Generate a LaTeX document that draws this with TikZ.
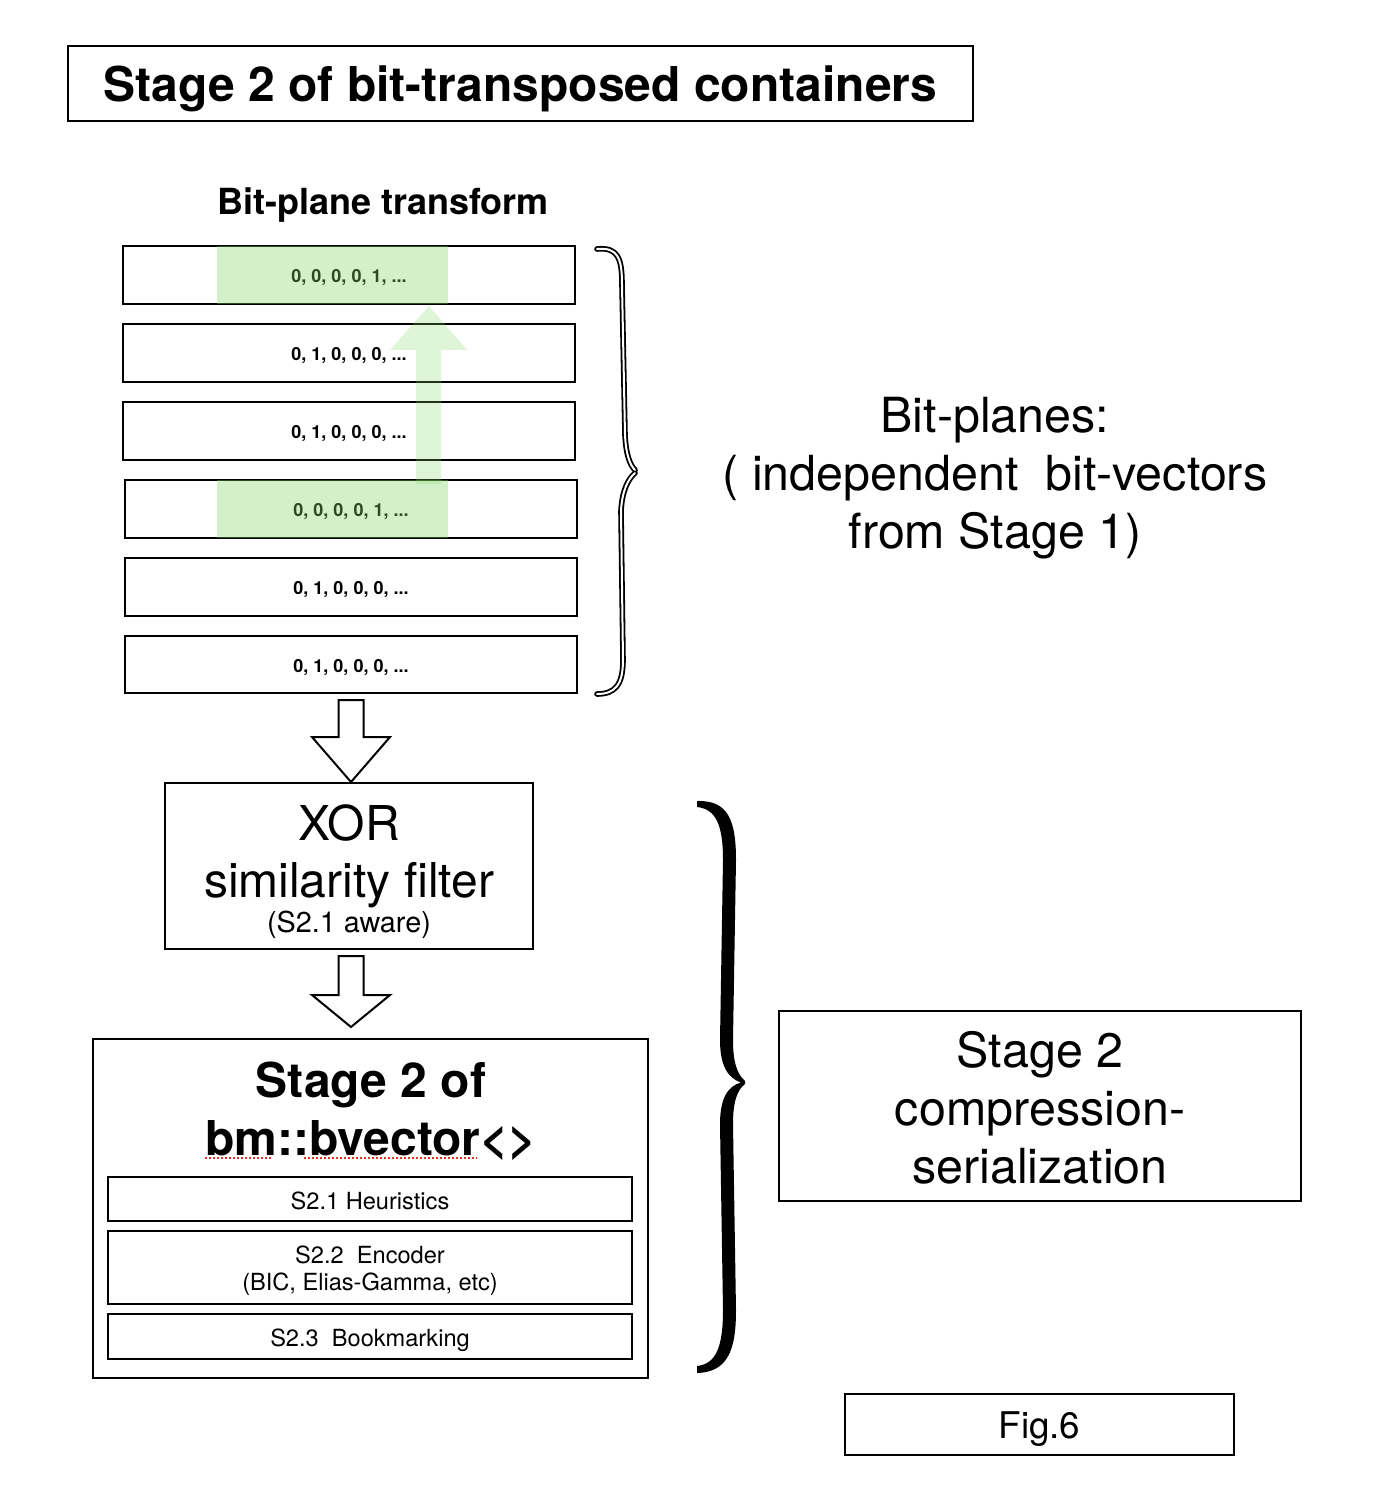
\documentclass[tikz,border=0pt]{standalone}
\usepackage{fontspec}
\setmainfont{TeX Gyre Heros}
\usetikzlibrary{calc}
\definecolor{hl}{RGB}{129,214,100}
\definecolor{squig}{RGB}{225,50,40}
\newcommand\lowr[2]{\raisebox{-#1}[\height][\depth]{#2}}
\begin{document}
\begin{tikzpicture}[x=0.5pt,y=-0.5pt,
  box/.style={draw=black,line width=1pt,inner sep=0pt,align=center},
  rowbox/.style={box,minimum width=226pt,minimum height=29pt,font=\fontsize{9}{11}\selectfont\bfseries},
  subbox/.style={box,minimum width=262pt,font=\fontsize{11.8}{14}\selectfont},
  bigtext/.style={align=center,font=\fontsize{24.2}{29}\selectfont},
  hollow/.style={draw=black,fill=white,line width=1pt,line join=miter},
  hlfill/.style={fill=hl,fill opacity=0.35},
  hlarrow/.style={fill=hl,fill opacity=0.25},
  hbraceout/.style={draw=black,line width=2.8pt,line cap=round,line join=round},
  hbracein/.style={draw=white,line width=1pt,line cap=round,line join=round},
  squigline/.style={draw=squig,line width=1pt,dash pattern=on 1pt off 1pt}
]
\useasboundingbox (0,0) rectangle (1382,1500);

% title
\node[box,minimum width=452.5pt,minimum height=37.5pt,font=\fontsize{24}{29}\selectfont\bfseries] (title) at (520.5,83.5) {\lowr{2.5pt}{Stage 2 of bit-transposed containers}};

\node[font=\fontsize{18}{22}\selectfont\bfseries,yshift=-2pt] (bpt) at (383,201) {Bit-plane transform};

% bit-plane rows
\node[rowbox] (r1) at (349,275) {\lowr{1.5pt}{0, 0, 0, 0, 1, ...}};
\node[rowbox] (r2) at (349,353) {\lowr{1.5pt}{0, 1, 0, 0, 0, ...}};
\node[rowbox] (r3) at (349,431) {\lowr{1.5pt}{0, 1, 0, 0, 0, ...}};
\node[rowbox] (r4) at (351,509) {\lowr{1.5pt}{0, 0, 0, 0, 1, ...}};
\node[rowbox] (r5) at (351,587) {\lowr{1.5pt}{0, 1, 0, 0, 0, ...}};
\node[rowbox,minimum height=28.5pt] (r6) at (351,664.5) {\lowr{1.5pt}{0, 1, 0, 0, 0, ...}};

% green highlights
\fill[hlfill] (217,246) rectangle (448,304);
\fill[hlfill] (217,480) rectangle (448,538);
% green arrow
\fill[hlarrow] (416,484) -- (416,350) -- (390,350) -- (429,306) -- (467,350) -- (441,350) -- (441,484) -- cycle;

% hollow brace for bit-planes
\foreach \st in {hbraceout,hbracein}{
  \draw[\st] (597,249) .. controls (618,247) and (622,258) .. (622,285) -- (625,435) .. controls (626,455) and (630,465) .. (635,470);
  \draw[\st] (635,473) .. controls (628,479) and (622,491) .. (621,511) -- (623,660) .. controls (623,685) and (615,694) .. (597,694);
}

\node[bigtext,yshift=-2.5pt] (bp) at (995,473) {Bit-planes:\\( independent\ \ bit-vectors\\from Stage 1)};

% XOR box
\node[box,minimum width=184pt,minimum height=83pt] (xor) at (349,866) {};
\node[font=\fontsize{24}{29}\selectfont,anchor=base] (xort1) at (349,840) {XOR};
\node[font=\fontsize{24}{29}\selectfont,anchor=base] (xort2) at (349,897) {similarity filter};
\node[font=\fontsize{14.4}{17}\selectfont,anchor=base] (xort3) at (349,932) {(S2.1 aware)};

% hollow arrow 1
\coordinate (a1s) at ($(r6.south)+(0,6)$);
\coordinate (a1e) at (a1s |- xor.north);
\draw[hollow] ($(a1s)+(-12.5,0)$) -- ($(a1s)+(12.5,0)$) -- ($(a1e)+(12.5,-45)$) -- ($(a1e)+(39,-45)$) -- (a1e) -- ($(a1e)+(-39,-45)$) -- ($(a1e)+(-12.5,-45)$) -- cycle;

% big box
\node[box,minimum width=277.5pt,minimum height=169.5pt] (big) at (370.5,1208.5) {};
\node[align=center,font=\fontsize{24}{29}\selectfont\bfseries,yshift=-1.5pt] (s2t) at (371,1108) {Stage 2 of\\bm::bvector<>};
\draw[squigline] (205,1158) -- (273,1158);
\draw[squigline] (304,1158) -- (477,1158);

% hollow arrow 2
\coordinate (a2s) at ($(xor.south)+(2,6)$);
\coordinate (a2e) at (a2s |- big.north);
\draw[hollow] ($(a2s)+(-12.5,0)$) -- ($(a2s)+(12.5,0)$) -- ($(a2e)+(12.5,-43)$) -- ($(a2e)+(39,-43)$) -- ($(a2e)+(0,-11)$) -- ($(a2e)+(-39,-43)$) -- ($(a2e)+(-12.5,-43)$) -- cycle;

\node[subbox,minimum height=22pt] (s21) at (370,1199) {\lowr{1pt}{S2.1 Heuristics}};
\node[subbox,minimum height=36.5pt] (s22) at (370,1267.5) {\lowr{2pt}{\begin{tabular}{@{}c@{}}S2.2\ \ Encoder\\[-0.5pt](BIC, Elias-Gamma, etc)\end{tabular}}};
\node[subbox,minimum height=22.5pt] (s23) at (370,1336.5) {\lowr{1.8pt}{S2.3\ \ Bookmarking}};

% big solid brace
\fill[black] (697,801) .. controls (728,800) and (736,820) .. (736,860) -- (733,1040) .. controls (733,1062) and (737,1074) .. (745,1081)
  -- (745,1084) .. controls (737,1090) and (733,1102) .. (733,1124) -- (736,1310) .. controls (736,1350) and (728,1372) .. (697,1373)
  -- (697,1366) .. controls (716,1364) and (723,1347) .. (723,1310) -- (720,1124) .. controls (720,1098) and (728,1086) .. (741,1082.5)
  .. controls (728,1078) and (720,1066) .. (720,1040) -- (723,860) .. controls (723,825) and (716,809) .. (697,807) -- cycle;

\node[box,bigtext,minimum width=261pt,minimum height=95pt] (s2c) at (1040,1106) {\lowr{4pt}{\begin{tabular}{@{}c@{}}Stage 2\\compression-\\serialization\end{tabular}}};

\node[box,minimum width=194.5pt,minimum height=30.5pt,font=\fontsize{18.4}{22}\selectfont] (fig) at (1039.5,1424.5) {\lowr{2.5pt}{Fig.6}};
\end{tikzpicture}
\end{document}
